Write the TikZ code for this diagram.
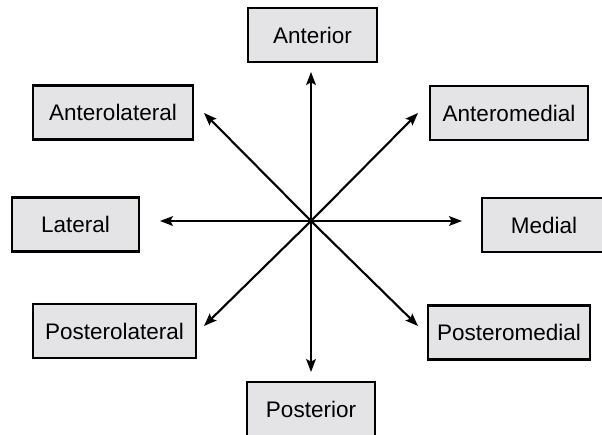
\documentclass[tikz,border=0pt]{standalone}
\usepackage{fontspec}
\setmainfont{Liberation Sans}
\usetikzlibrary{arrows.meta}
\definecolor{boxgray}{HTML}{E4E4E6}

\begin{document}
\begin{tikzpicture}[x=0.025cm,y=-0.025cm,
    dirbox/.style={draw=black,fill=boxgray,line width=1.9pt,minimum height=1.35cm,
        inner sep=0pt,font=\fontsize{16}{19}\selectfont},
    dirarrow/.style={line width=1.5pt,-{Stealth[length=0.32cm,width=0.24cm,inset=0.06cm]}}]
        \clip (0,0) rectangle (602,434);
        \node[dirbox,minimum width=3.225cm] (ant) at (312.5,35) {Anterior};
        \node[dirbox,minimum width=4cm] (antlat) at (113,112.5) {Anterolateral};
        \node[dirbox,minimum width=3.95cm] (antmed) at (509,113) {Anteromedial};
        \node[dirbox,minimum width=3.175cm] (lat) at (75.5,224.5) {Lateral};
        \node[dirbox,minimum width=3.1cm] (med) at (544,225) {Medial};
        \node[dirbox,minimum width=4.075cm] (postlat) at (114.5,331) {Posterolateral};
        \node[dirbox,minimum width=4.05cm] (postmed) at (509,332.5) {Posteromedial};
        \node[dirbox,minimum width=3.2cm] (post) at (311,409) {Posterior};
        % arrow ends
        \coordinate (c) at (311,221);
        \coordinate (tant) at (311,72);
        \coordinate (tpost) at (311,372);
        \coordinate (tlat) at (160,221);
        \coordinate (tmed) at (462,221);
        \coordinate (tantlat) at (204,113);
        \coordinate (tantmed) at (418,113);
        \coordinate (tpostlat) at (204,326);
        \coordinate (tpostmed) at (418,326);
        \foreach \t in {tant,tpost,tlat,tmed,tantlat,tantmed,tpostlat,tpostmed}
            \draw[dirarrow] (c) -- (\t);
    \end{tikzpicture}
\end{document}
